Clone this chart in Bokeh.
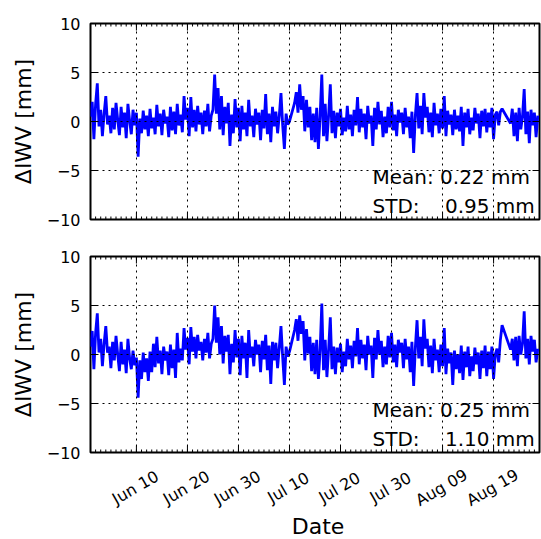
from datetime import datetime, timedelta

import pandas as pd
from bokeh.plotting import figure
from bokeh.layouts import column
from bokeh.models import FixedTicker, Range1d, Label, ColumnDataSource
from bokeh.core.properties import value
from bokeh.embed import file_html
from bokeh.resources import INLINE

# ---------------- data ----------------
START = datetime(2017, 6, 1)
END = datetime(2017, 8, 28)
SAMPLE_STEP = "8h"   # three samples per day; None = missing sample (line bridges the gap)

x_tick_dates = [datetime(2017, 6, 10), datetime(2017, 6, 20), datetime(2017, 6, 30),
                datetime(2017, 7, 10), datetime(2017, 7, 20), datetime(2017, 7, 30),
                datetime(2017, 8, 9), datetime(2017, 8, 19)]
y_ticks = [-10, -5, 0, 5, 10]
y_tick_labels = {-10: "\u221210", -5: "\u22125", 0: "0", 5: "5", 10: "10"}

diwv_top = [
    0.5, 2.0, -1.8,   1.8, 3.9, -0.5,   1.2, -1.5, 0.8,   2.6, -0.3, 0.6,
    -1.2, 1.4, -0.8,  1.9, 0.2, -1.4,   1.5, -0.6, 0.9,   -1.7, 1.8, 0.1,
    -1.3, 1.2, -0.4,  0.9, -3.6, 0.3,   -1.2, 1.1, -0.8,  0.6, -1.5, 1.3,
    -0.7, 0.4, -1.3,  1.7, -0.5, 0.8,   -1.4, 1.2, -0.2,  0.5, -1.6, 1.5,
    -0.9, 1.0, -1.3,  1.8, -0.4, 0.7,   -1.1, 2.6, 0.2,   1.4, -1.5, 2.5,
    -0.6, 1.2, -1.0,  1.6, -0.3, 0.9,   -1.3, 1.1, -0.5,  1.8, -1.0, 0.6,
    1.2, 4.8, 0.8,    3.4, -0.8, 2.6,   -1.4, 1.5, -0.2,  1.9, -2.5, 0.7,
    -1.2, 2.3, -0.6,  1.4, -2.0, 1.6,   -0.8, 0.9, -1.5,  2.2, -0.5, 0.6,
    -1.6, 1.3, -0.3,  0.9, -1.9, 1.2,   -0.7, 2.8, -1.3,  0.8, -2.1, 1.5,
    -0.5, 1.0, -1.2,  0.6, 2.9, -0.4,   -2.8, 0.8, -0.3,  0.0, None, None,
    1.9, 3.0, 0.9,    3.8, 1.2, 2.6,    -1.0, 2.2, -0.6,  1.5, -1.9, 0.8,
    -2.1, 1.4, -2.8,  0.5, 4.8, -1.5,   1.8, -2.0, 0.6,   3.8, -1.2, 1.1,
    -1.7, 0.9, -0.5,  1.3, -1.4, 0.4,   -1.0, 1.6, -0.8,  0.7, -1.5, 1.2,
    -0.4, 2.5, -1.1,  1.3, -0.6, 0.8,   -1.8, 1.6, -0.2,  0.6, -2.5, 1.4,
    -0.8, 2.0, -0.3,  1.1, -1.6, 0.5,   -1.2, 1.5, -0.6,  2.0, -0.9, 0.7,
    -1.5, 1.2, -0.1,  0.9, -1.3, 1.4,   -0.6, 0.5, -1.7,  1.0, -3.2, 0.6,
    2.9, -0.7, 1.6,   -1.3, 2.9, 0.4,   1.5, -1.1, 0.9,   -1.6, 1.9, -0.4,
    0.8, -1.2, 1.3,   -0.7, 2.6, -1.5,  1.1, -0.3, 0.7,   -1.4, 1.2, -0.8,
    0.6, -1.0, 1.5,   -2.5, 0.9, -0.6,  1.3, -1.3, 0.4,   -0.9, 1.4, -0.2,
    0.8, -1.7, 1.1,   -0.5, 1.3, -1.1,  0.9, -0.6, 1.4,   -1.8, 0.7, 1.0,
    -0.4, 1.0, 1.3,   None, None, None, None, -0.2, 1.3,  -1.5, 0.9, -2.0,
    1.4, -0.8, 0.5,   3.3, -1.3, 1.0,   -2.2, 1.2, -0.4,  0.9, -1.6, 0.6,
]

diwv_bottom = [
    0.8, 2.4, -1.5,   2.2, 4.2, 0.2,    1.6, -1.2, 1.1,   2.9, 0.2, 0.8,
    -1.4, 1.3, -0.6,  1.9, 0.0, -1.7,   1.3, -1.0, 0.5,   -1.9, 1.6, -0.4,
    -1.5, 0.4, -1.1,  -0.3, -4.4, -0.6, -2.5, 0.2, -1.8,  -0.4, -2.7, 0.3,
    -1.8, 1.1, -1.3,  1.8, -0.9, 0.4,   -2.0, 0.8, -0.6,  0.3, -2.1, 1.0,
    -1.4, 0.5, -2.4,  2.2, -0.8, 0.6,   -0.6, 2.7, 0.5,   1.7, -1.0, 2.8,
    0.3, 1.8, -0.4,   2.0, 0.4, 1.3,    -0.6, 1.6, 0.2,   2.2, -0.4, 1.1,
    1.6, 5.0, 1.2,    3.8, 0.0, 2.9,    -0.9, 1.9, 0.3,   2.0, -2.0, 1.1,
    -0.8, 2.5, -0.3,  1.6, -2.1, 1.9,   -0.4, 1.2, -2.4,  2.5, -0.3, 0.8,
    -1.2, 1.5, 0.0,   1.0, -1.8, 1.4,   -0.5, 2.0, -1.6,  0.9, -3.0, 1.3,
    -0.6, 1.2, -1.4,  0.7, 2.9, -0.3,   -3.1, 0.8, -0.2,  0.3, None, None,
    2.5, 3.6, 1.4,    4.0, 2.1, 3.4,    -0.6, 2.6, 0.1,   1.8, -1.7, 1.2,
    -2.0, 1.5, -2.5,  0.4, 5.2, -1.6,   1.5, -2.3, 0.5,   3.8, -1.5, 0.8,
    -2.0, 0.7, -0.8,  1.1, -1.8, 0.3,   -1.2, 1.6, -0.5,  0.9, -1.4, 1.4,
    -0.2, 2.7, -1.0,  1.5, -0.4, 1.0,   -1.6, 1.9, 0.0,   0.9, -2.4, 1.7,
    -0.5, 2.5, 0.0,   1.4, -1.3, 0.8,   -1.0, 1.9, -0.3,  2.2, -0.8, 1.0,
    -1.3, 1.5, 0.2,   1.2, -1.4, 1.6,   -0.5, 0.8, -1.8,  1.3, -3.2, 0.7,
    3.5, -0.4, 1.8,   -1.2, 3.6, 0.6,   1.6, -1.3, 0.9,   -1.9, 1.6, -0.6,
    0.5, -1.8, 1.0,   -1.2, 2.7, -2.0,  0.6, -0.9, 0.2,   -3.1, 0.4, -1.5,
    0.0, -1.9, 0.9,   -2.6, 0.3, -1.3,  0.8, -2.2, -0.2,  -1.7, 0.7, -1.0,
    0.2, -2.5, 0.4,   -1.4, 0.9, -2.2,  0.3, -1.5, 0.8,   -2.5, 0.0, 0.6,
    -0.8, 1.5, 3.0,   None, None, None, None, 0.5, 1.6,   -0.6, 1.8, -1.2,
    1.9, 0.0, 1.1,    4.4, -0.4, 1.6,   -1.0, 1.9, 0.3,   1.5, -0.8, 0.6,
]

NB = "\u00a0"
stats_top = ("Mean: 0.22 mm", "STD:" + NB * 4 + "0.95 mm")
stats_bottom = ("Mean: 0.25 mm", "STD:" + NB * 4 + "1.10 mm")

# ---------------- helpers ----------------
FONT = "DejaVu Sans"
W = 541
BORDER_L, BORDER_R = 90, 2

sample_times = pd.date_range(START, periods=len(diwv_top), freq=SAMPLE_STEP)
n_days = (END - START).days
minor_dates = [START + timedelta(days=i) for i in range(n_days + 1)]
x_range = Range1d(start=START, end=END)


def series(vals):
    t = [ts for ts, v in zip(sample_times, vals) if v is not None]
    v = [v for v in vals if v is not None]
    return ColumnDataSource(dict(t=t, v=v))


def make_panel(vals, stats, height, border_top, border_bottom):
    p = figure(width=W, height=height, x_axis_type="datetime",
               x_range=x_range, y_range=Range1d(-10, 10),
               output_backend="svg", toolbar_location=None,
               min_border_left=BORDER_L, min_border_right=BORDER_R,
               min_border_top=border_top, min_border_bottom=border_bottom)
    p.background_fill_color = "white"
    p.border_fill_color = "white"
    p.outline_line_color = "black"
    p.outline_line_width = 2

    p.line(x="t", y="v", source=series(vals), line_color="#0000ff", line_width=2.8)

    # x axis (shared dates; tick labels only under the lower panel)
    p.xaxis.visible = False

    # left y axis
    ya = p.yaxis[0]
    ya.ticker = FixedTicker(ticks=y_ticks)
    ya.major_tick_in = 7
    ya.major_tick_out = 0
    ya.minor_tick_in = 0
    ya.minor_tick_out = 0
    ya.major_tick_line_color = "black"
    ya.axis_line_color = None
    ya.major_label_overrides = y_tick_labels
    ya.major_label_text_font = FONT
    ya.major_label_text_font_size = "16px"
    ya.major_label_text_color = "black"
    ya.major_label_standoff = 10
    ya.axis_label = "\u0394IWV [mm]"
    ya.axis_label_text_font = FONT
    ya.axis_label_text_font_size = "22px"
    ya.axis_label_text_font_style = "normal"
    ya.axis_label_text_color = "black"
    ya.axis_label_standoff = 8

    # inward ticks on the other frame sides (matplotlib classic style)
    nmaj, nmin, ny = len(x_tick_dates), len(minor_dates), len(y_ticks)
    tick = dict(line_color="black", line_width=1, length_units="screen", angle_units="deg")
    p.ray(x=x_tick_dates, y=[-10] * nmaj, length=7, angle=90, **tick)
    p.ray(x=x_tick_dates, y=[10] * nmaj, length=7, angle=-90, **tick)
    p.ray(x=minor_dates, y=[-10] * nmin, length=3, angle=90, **tick)
    p.ray(x=minor_dates, y=[10] * nmin, length=3, angle=-90, **tick)
    p.ray(x=[END] * ny, y=y_ticks, length=7, angle=180, **tick)

    # dotted grid drawn over the data, like the reference
    p.xgrid[0].ticker = FixedTicker(ticks=[(d - datetime(1970, 1, 1)).total_seconds() * 1000
                                          for d in x_tick_dates])
    p.ygrid[0].ticker = FixedTicker(ticks=y_ticks)
    for g in (p.xgrid[0], p.ygrid[0]):
        g.grid_line_color = "black"
        g.grid_line_dash = "2 4"
        g.grid_line_width = 1
        g.level = "overlay"

    # statistics text
    x_txt = START + (END - START) * 0.628
    for txt, yv in zip(stats, (-5.68, -8.67)):
        p.add_layout(Label(x=x_txt, y=yv, text=txt, text_font=FONT,
                           text_font_size="20px", text_color="black",
                           text_baseline="alphabetic", text_align="left"))
    return p


def make_date_strip(height):
    s = figure(width=W, height=height, x_axis_type="datetime",
               x_range=x_range, y_range=Range1d(0, 1),
               output_backend="svg", toolbar_location=None,
               min_border_left=BORDER_L, min_border_right=BORDER_R,
               min_border_top=0, min_border_bottom=0)
    s.xaxis.visible = False
    s.yaxis.visible = False
    s.grid.visible = False
    s.outline_line_color = None
    s.background_fill_color = "white"
    s.border_fill_color = "white"
    s.text(x=x_tick_dates, y=[0.684] * len(x_tick_dates),
           text=[d.strftime("%b %d") for d in x_tick_dates],
           angle=30, angle_units="deg", x_offset=-1,
           text_align="center", text_baseline="middle",
           text_font=value(FONT), text_font_size="16px", text_color="black")
    s.text(x=[START + (END - START) / 2], y=[0.171], text=["Date"],
           text_align="center", text_baseline="middle", x_offset=3,
           text_font=value(FONT), text_font_size="22px", text_color="black")
    return s


p1 = make_panel(diwv_top, stats_top, 237, 23, 18)
p2 = make_panel(diwv_bottom, stats_bottom, 226, 19, 11)
strip = make_date_strip(76)
layout = column(p1, p2, strip, spacing=0)

open("out.html", "w").write(file_html(layout, INLINE))
